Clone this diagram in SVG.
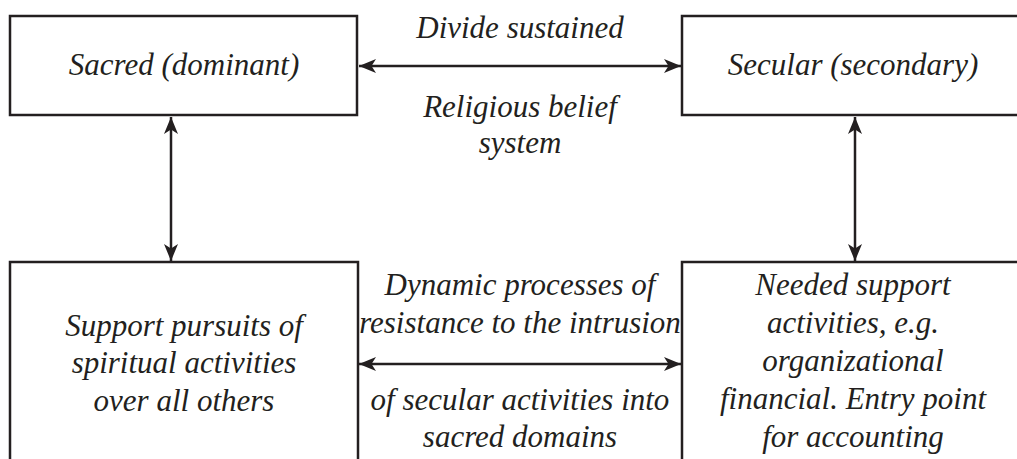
<svg xmlns="http://www.w3.org/2000/svg" width="1017" height="459" viewBox="0 0 1017 459">
<style>
.box{fill:#ffffff;stroke:#231f20;stroke-width:2.5}
.conn{fill:none;stroke:#231f20;stroke-width:2.5}
text{font-family:"Liberation Serif","Times New Roman",serif;font-style:italic;font-size:31px;fill:#231f20;text-anchor:middle}
</style>
<defs>
<marker id="ah" markerUnits="userSpaceOnUse" markerWidth="20" markerHeight="16" refX="17" refY="7.5" orient="auto-start-reverse" viewBox="0 0 20 16">
<path d="M17,7.5 L0,0.5 L4.5,7.5 L0,14.5 Z" fill="#231f20"/>
</marker>
</defs>
<rect width="1017" height="459" fill="#ffffff"/>
<g id="sacred">
<rect class="box" x="10" y="16" width="347" height="99"/>
<text x="184" y="75">Sacred (dominant)</text>
</g>
<g id="secular">
<rect class="box" x="682" y="16" width="345" height="99"/>
<text x="853" y="75">Secular (secondary)</text>
</g>
<g id="support">
<rect class="box" x="10" y="262" width="348" height="210"/>
<text x="184" y="336">Support pursuits of</text>
<text x="184" y="373">spiritual activities</text>
<text x="184" y="411">over all others</text>
</g>
<g id="needed">
<rect class="box" x="682" y="262" width="345" height="210"/>
<text x="853" y="295">Needed support</text>
<text x="853" y="333">activities, e.g.</text>
<text x="853" y="371">organizational</text>
<text x="853" y="409">financial. Entry point</text>
<text x="853" y="447">for accounting</text>
</g>
<g id="connectors">
<line class="conn" x1="359" y1="66" x2="681" y2="66" marker-start="url(#ah)" marker-end="url(#ah)"/>
<line class="conn" x1="171" y1="117" x2="171" y2="261" marker-start="url(#ah)" marker-end="url(#ah)"/>
<line class="conn" x1="855" y1="117" x2="855" y2="261" marker-start="url(#ah)" marker-end="url(#ah)"/>
<line class="conn" x1="359" y1="364" x2="681" y2="364" marker-start="url(#ah)" marker-end="url(#ah)"/>
</g>
<g id="labels">
<text x="520" y="38">Divide sustained</text>
<text x="520" y="117">Religious belief</text>
<text x="520" y="153">system</text>
<text x="520" y="295">Dynamic processes of</text>
<text x="520" y="333">resistance to the intrusion</text>
<text x="520" y="410">of secular activities into</text>
<text x="520" y="447">sacred domains</text>
</g>
</svg>
